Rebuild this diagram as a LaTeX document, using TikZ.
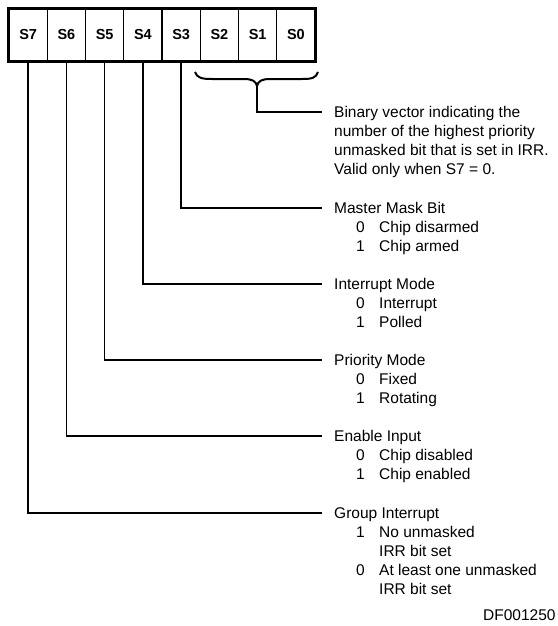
\documentclass[tikz,border=0pt]{standalone}
\usepackage{fontspec}
\setmainfont{Liberation Sans}
\newcommand\optline[2]{\hspace*{22pt}\makebox[23pt][l]{#1}#2}
\newcommand\contline[1]{\hspace*{45pt}#1}
\begin{document}
\begin{tikzpicture}[x=1pt,y=-1pt,
  cell/.style={draw, line width=1.4pt, minimum width=38.25pt, minimum height=52pt,
    inner sep=0pt, font=\fontsize{14.5}{16}\selectfont\bfseries},
  conn/.style={line width=1.6pt},
  blk/.style={inner sep=0pt, anchor=base west, font=\fontsize{15.5}{19.1}\selectfont}]
\useasboundingbox (0,0) rectangle (557,626);
% register cells
\foreach \i/\n in {0/7,1/6,2/5,3/4,4/3,5/2,6/1,7/0}
  \node[cell] (c\n) at ({9+38.25*(\i+0.5)},35) {S\n};
\draw[line width=2.4pt] (c7.north west) rectangle (c0.south east);
% brace under S2..S0
\coordinate (bt) at (257,86);
\draw[line width=2pt] (195,72) .. controls (197,78) and (202,79) .. (212,79) -- (244,79)
  .. controls (252,79) and (256,81) .. (bt)
  .. controls (258,81) and (262,79) .. (270,79) -- (302,79)
  .. controls (312,79) and (316,78) .. (318,72);
% text blocks
\node[blk] (bv) at (334,117.5) {\begin{tabular}[t]{@{}l@{}}Binary vector indicating the\\
  number of the highest priority\\ unmasked bit that is set in IRR.\\ Valid only when S7 = 0.\end{tabular}};
\node[blk] (mm) at (334,213.5) {\begin{tabular}[t]{@{}l@{}}Master Mask Bit\\
  \optline{0}{Chip disarmed}\\ \optline{1}{Chip armed}\end{tabular}};
\node[blk] (im) at (334,289.5) {\begin{tabular}[t]{@{}l@{}}Interrupt Mode\\
  \optline{0}{Interrupt}\\ \optline{1}{Polled}\end{tabular}};
\node[blk] (pm) at (334,365.5) {\begin{tabular}[t]{@{}l@{}}Priority Mode\\
  \optline{0}{Fixed}\\ \optline{1}{Rotating}\end{tabular}};
\node[blk] (ei) at (334,441.5) {\begin{tabular}[t]{@{}l@{}}Enable Input\\
  \optline{0}{Chip disabled}\\ \optline{1}{Chip enabled}\end{tabular}};
\node[blk] (gi) at (334,518.5) {\begin{tabular}[t]{@{}l@{}}Group Interrupt\\
  \optline{1}{No unmasked}\\ \contline{IRR bit set}\\
  \optline{0}{At least one unmasked}\\ \contline{IRR bit set}\end{tabular}};
\node[blk] (df) at (483,620.5) {DF001250};
% connectors
\draw[conn] (bt) |- ([xshift=-12pt,yshift=5.5pt]bv.base west);
\draw[conn] (c3.south) |- ([xshift=-12pt,yshift=5.5pt]mm.base west);
\draw[conn] (c4.south) |- ([xshift=-12pt,yshift=5.5pt]im.base west);
\draw[conn] (c5.south) |- ([xshift=-12pt,yshift=5.5pt]pm.base west);
\draw[conn] (c6.south) |- ([xshift=-12pt,yshift=5.5pt]ei.base west);
\draw[conn] (c7.south) |- ([xshift=-12pt,yshift=5.5pt]gi.base west);
\end{tikzpicture}
\end{document}
